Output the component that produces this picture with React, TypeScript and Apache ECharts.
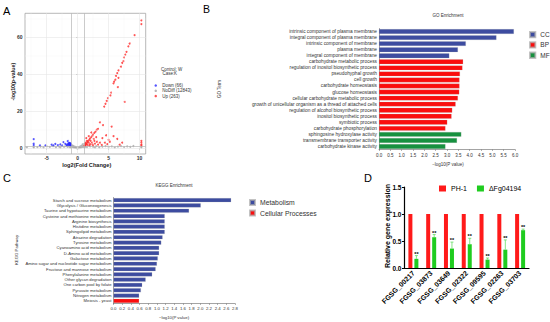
import React, { useEffect, useRef } from 'react';
import * as echarts from 'echarts';

const FONT = '"Liberation Sans", Arial, sans-serif';

// ---------- Panel A: volcano ----------
const volcanoUp: number[][] = [
  [10.3, 69], [10.3, 67], [9.2, 61], [8.4, 56.5], [8.2, 55], [7.9, 52], [7.7, 50.5], [7.5, 49], [7.4, 47],
  [7.2, 46], [7.0, 44], [6.6, 42], [6.4, 40.5], [6.2, 39], [6.6, 38], [6.1, 37], [5.9, 36], [5.8, 35],
  [6.5, 33], [5.4, 30], [5.3, 28.5], [4.9, 27], [4.7, 25.5], [4.5, 24], [4.3, 22.5], [7.6, 25], [3.6, 14],
  [5.5, 11.7], [4.1, 12.5], [3.3, 10.5], [3.1, 10], [2.9, 9], [2.7, 8.3], [2.5, 7.5], [2.4, 6.8], [2.2, 6],
  [2.0, 5.3], [1.9, 4.6], [1.7, 4], [1.6, 3.4], [1.5, 2.8], [1.4, 2.2], [1.3, 1.8], [1.2, 1.5], [1.1, 1.4],
  [1.3, 3], [1.5, 4], [1.8, 3], [2.1, 4], [2.3, 3], [2.6, 5], [1.2, 2.5], [1.6, 1.8], [2, 2.2], [2.4, 2],
  [2.8, 2.5], [3.1, 3.5], [1.4, 5.5], [1.8, 6.5], [2.2, 8.5], [3.0, 6], [2.7, 4], [1.9, 1.6], [2.5, 1.5],
  [3.3, 2], [3.6, 3], [4.0, 5.5], [4.6, 7], [5.0, 4.5], [5.8, 6.5], [6.4, 5], [4.4, 3], [5.2, 3.5], [7.2, 3],
  [6.8, 2], [4.8, 2.2], [3.9, 1.8], [10.3, 4], [10.3, 3], [10.3, 2], [10.3, 1.5],
];
const volcanoDown: number[][] = [
  [-7.1, 4.9], [-7.1, 2.5], [-7.1, 1.7], [-5.2, 1.6], [-4.2, 1.9], [-3.6, 2.3], [-3.2, 1.7], [-2.8, 2.1],
  [-2.3, 3.3], [-2.0, 2.4], [-1.8, 1.9], [-1.6, 3.9], [-1.5, 2.6], [-1.4, 2.2], [-1.3, 1.8], [-1.2, 2.6],
  [-1.1, 2.0], [-1.25, 2.3], [-1.35, 2.9], [-1.15, 1.6], [-1.05, 1.5], [-1.45, 1.7], [-1.55, 2.1],
  [-1.7, 1.6], [-2.5, 1.5], [-6.1, 1.5], [-3.9, 1.5], [-1.1, 2.4], [-1.2, 1.9], [-1.3, 2.7],
];
const volcanoNoDiff: number[][] = [
  [-7.1, 0.3], [-7.1, 0.8], [-6.5, 0.6], [-6, 0.9], [-5.5, 0.4], [-5, 1.0], [-4.5, 0.7], [-4, 1.1],
  [-3.5, 0.5], [-3, 0.9], [-2.6, 1.2], [-2.2, 0.8], [-1.9, 1.1], [-1.6, 0.7], [-1.3, 1.0], [-1.0, 0.9],
  [-0.8, 0.6], [-0.6, 0.4], [-0.4, 0.25], [-0.2, 0.1], [0, 0.05], [0.2, 0.1], [0.4, 0.3], [0.6, 0.5],
  [0.8, 0.7], [0.9, 1.0], [-0.7, 1.2], [0.7, 1.6], [0.85, 2.2], [-0.9, 1.6], [1.2, 0.9], [1.5, 0.6],
  [2, 1.0], [2.5, 0.8], [3, 1.1], [3.5, 0.5], [4, 0.9], [4.5, 1.2], [5, 0.7], [5.5, 1.0], [6, 0.4],
  [6.5, 0.9], [7, 1.1], [7.5, 0.6], [8, 1.0], [8.5, 0.7], [9, 1.2], [10.3, 0.4], [10.3, 0.9], [-8.2, 0.5],
  [-0.3, 0.6], [0.3, 0.7], [-0.5, 0.9], [0.5, 1.1], [-1.2, 0.4], [1.1, 0.5], [-2.8, 0.3], [2.8, 0.3],
];
const volcanoXTicks = [-5, 0, 5, 10];
const volcanoXMinor = [-7.5, -2.5, 2.5, 7.5];
const volcanoYTicks = [0, 20, 40, 60];
const volcanoYMinor = [10, 30, 50, 70];
const fcThresholds = [-1, 1];
const pThreshold = 1.3;

// ---------- Panel B: GO ----------
const goTerms = [
  'intrinsic component of plasma membrane', 'integral component of plasma membrane',
  'intrinsic component of membrane', 'plasma membrane', 'integral component of membrane',
  'carbohydrate metabolic process', 'regulation of inositol biosynthetic process', 'pseudohyphal growth',
  'cell growth', 'carbohydrate homeostasis', 'glucose homeostasis', 'cellular carbohydrate metabolic process',
  'growth of unicellular organism as a thread of attached cells', 'regulation of alcohol biosynthetic process',
  'inositol biosynthetic process', 'symbiotic process', 'carbohydrate phosphorylation',
  'sphingosine hydroxylase activity', 'transmembrane transporter activity', 'carbohydrate kinase activity',
];
const goValues = [5.95, 5.18, 3.83, 3.48, 3.10, 3.71, 3.68, 3.57, 3.55, 3.55, 3.54, 3.48, 3.38, 3.23, 3.20, 3.01, 2.93, 3.63, 3.44, 2.93];
const goGroups = ['CC', 'CC', 'CC', 'CC', 'CC', 'BP', 'BP', 'BP', 'BP', 'BP', 'BP', 'BP', 'BP', 'BP', 'BP', 'BP', 'BP', 'MF', 'MF', 'MF'];
const goCats = ['CC', 'BP', 'MF'];

// ---------- Panel C: KEGG ----------
const keggTerms = [
  'Starch and sucrose metabolism', 'Glycolysis / Gluconeogenesis', 'Taurine and hypotaurine metabolism',
  'Cysteine and methionine metabolism', 'Arginine biosynthesis', 'Histidine metabolism', 'Sphingolipid metabolism',
  'Atrazine degradation', 'Tyrosine metabolism', 'Cyanoamino acid metabolism', 'D-Amino acid metabolism',
  'Galactose metabolism', 'Amino sugar and nucleotide sugar metabolism', 'Fructose and mannose metabolism',
  'Phenylalanine metabolism', 'Other glycan degradation', 'One carbon pool by folate', 'Pyruvate metabolism',
  'Nitrogen metabolism', 'Meiosis - yeast',
];
const keggValues = [2.71, 2.01, 1.74, 1.18, 1.18, 1.18, 1.18, 1.13, 1.10, 1.05, 1.05, 1.02, 1.0, 0.97, 0.89, 0.74, 0.66, 0.63, 0.59, 0.59];
const keggGroups = [...Array(19).fill('Metabolism'), 'Cellular Processes'];
const keggCats = ['Metabolism', 'Cellular Processes'];

// ---------- Panel D: qPCR ----------
const genes = ['FGSG_00217', 'FGSG_03873', 'FGSG_03649', 'FGSG_02322', 'FGSG_09595', 'FGSG_02263', 'FGSG_03703'];
const ph1Values = [1, 1, 1, 1, 1, 1, 1];
const mutantValues = [0.17, 0.57, 0.36, 0.44, 0.155, 0.34, 0.70];
const mutantErrTop = [0.23, 0.62, 0.48, 0.55, 0.185, 0.52, 0.72];

const BLUE = '#3d4ca0';
const RED = '#fb0d0d';
const GREEN = '#17913f';
const goColors: Record<string, string> = { CC: BLUE, BP: RED, MF: GREEN };
const keggColors: Record<string, string> = { Metabolism: BLUE, 'Cellular Processes': RED };

export default function App() {
  const ref = useRef<HTMLDivElement>(null);
  useEffect(() => {
    if (!ref.current) return;
    const chart = echarts.init(ref.current, undefined, { renderer: 'svg' });

    const vLines = [
      ...volcanoXMinor.map((v) => ({ xAxis: v, lineStyle: { color: '#f3f3f3', width: 0.4, type: 'solid' } })),
      ...volcanoYMinor.map((v) => ({ yAxis: v, lineStyle: { color: '#f3f3f3', width: 0.4, type: 'solid' } })),
      ...volcanoXTicks.map((v) => ({ xAxis: v, lineStyle: { color: '#e6e6e6', width: 0.6, type: 'solid' } })),
      ...volcanoYTicks.map((v) => ({ yAxis: v, lineStyle: { color: '#e6e6e6', width: 0.6, type: 'solid' } })),
      ...fcThresholds.map((v) => ({ xAxis: v, lineStyle: { color: '#b5b5b5', width: 0.7, type: 'solid' } })),
      { yAxis: pThreshold, lineStyle: { color: '#b5b5b5', width: 0.7, type: 'solid' } },
    ];

    const catAxisCommon = {
      type: 'category' as const,
      inverse: true,
      axisLine: { lineStyle: { color: '#666', width: 0.6 } },
      axisTick: { alignWithLabel: true, length: 1.5, lineStyle: { color: '#666', width: 0.5 } },
      axisLabel: { fontSize: 4.8, color: '#333', margin: 2, fontFamily: FONT, interval: 0 },
    };
    const valAxisSmall = {
      type: 'value' as const,
      axisLine: { show: true, lineStyle: { color: '#666', width: 0.6 } },
      axisTick: { show: true, length: 1.5, lineStyle: { color: '#666', width: 0.5 } },
      splitLine: { show: false },
      axisLabel: { fontSize: 4.5, color: '#333', margin: 3, fontFamily: FONT, formatter: (v: number) => v.toFixed(1) },
    };

    const option: any = {
      animation: false,
      textStyle: { fontFamily: FONT },
      grid: [
        { left: 25, top: 13.3, width: 120.7, height: 140.7, show: true, borderColor: '#999', borderWidth: 0.7, backgroundColor: '#fff' },
        { left: 379, top: 28.5, width: 136, height: 121 },
        { left: 113.5, top: 197.5, width: 121.5, height: 106 },
        { left: 404.5, top: 187, width: 124.5, height: 81 },
      ],
      xAxis: [
        {
          type: 'value', gridIndex: 0, min: -8.5, max: 11.0,
          axisLine: { show: false },
          axisTick: { show: true, customValues: volcanoXTicks, length: 1.5, lineStyle: { color: '#555', width: 0.5 } },
          axisLabel: { customValues: volcanoXTicks, fontSize: 5, fontWeight: 'bold', color: '#333', margin: 1.5 },
          splitLine: { show: false },
        },
        { ...valAxisSmall, gridIndex: 1, min: 0, max: 6, interval: 0.5 },
        { ...valAxisSmall, gridIndex: 2, min: 0, max: 2.8, interval: 0.2, axisLabel: { ...valAxisSmall.axisLabel, fontSize: 4.3 } },
        {
          type: 'category', gridIndex: 3, data: genes,
          axisLine: { lineStyle: { color: '#000', width: 1.2 } },
          axisTick: { alignWithLabel: true, length: 3, lineStyle: { color: '#000', width: 1 } },
          axisLabel: { rotate: 45, fontSize: 7, fontWeight: 'bold', color: '#000', margin: 4, interval: 0 },
        },
      ],
      yAxis: [
        {
          type: 'value', gridIndex: 0, min: -3.1, max: 72.8,
          axisLine: { show: false },
          axisTick: { show: true, customValues: volcanoYTicks, length: 1.5, lineStyle: { color: '#555', width: 0.5 } },
          axisLabel: { customValues: volcanoYTicks, fontSize: 5, fontWeight: 'bold', color: '#333', margin: 2.5 },
          splitLine: { show: false },
        },
        { ...catAxisCommon, gridIndex: 1, data: goTerms },
        { ...catAxisCommon, gridIndex: 2, data: keggTerms, axisLabel: { ...catAxisCommon.axisLabel, fontSize: 4.2 } },
        {
          type: 'value', gridIndex: 3, min: 0, max: 1.5, interval: 0.5,
          axisLine: { show: true, lineStyle: { color: '#000', width: 1.2 } },
          axisTick: { show: true, length: 2.5, lineStyle: { color: '#000', width: 1 } },
          splitLine: { show: false },
          axisLabel: { fontSize: 6.5, fontWeight: 'bold', color: '#000', margin: 3, formatter: (v: number) => v.toFixed(1) },
        },
      ],
      legend: [
        {
          data: ['Down (66)', 'NoDiff (12843)', 'Up (263)'], orient: 'vertical', left: 154.5, top: 83,
          icon: 'circle', itemWidth: 3, itemHeight: 2.5, itemGap: 0.3, padding: 0,
          textStyle: { fontSize: 4.5, lineHeight: 4, color: '#333' },
        },
        {
          data: goCats, orient: 'vertical', left: 529, top: 31, icon: 'rect', itemWidth: 5.3, itemHeight: 5.3,
          itemGap: 3, padding: 0, textStyle: { fontSize: 6.5, lineHeight: 7, color: '#333' },
        },
        {
          data: keggCats, orient: 'vertical', left: 249, top: 199, icon: 'rect', itemWidth: 5, itemHeight: 5,
          itemGap: 3.5, padding: 0, textStyle: { fontSize: 6.8, lineHeight: 6.5, color: '#333' },
        },
        {
          data: ['PH-1', 'ΔFg04194'], orient: 'horizontal', left: 439, top: 185, icon: 'rect', itemWidth: 7,
          itemHeight: 6, itemGap: 10, padding: 0,
          textStyle: { fontSize: 7, color: '#000' },
        },
      ],
      graphic: [
        { type: 'text', left: 3, top: 5, style: { text: 'A', fontSize: 11, fill: '#000', fontFamily: FONT } },
        { type: 'text', left: 203, top: 3, style: { text: 'B', fontSize: 10.5, fill: '#000', fontFamily: FONT } },
        { type: 'text', left: 3, top: 172, style: { text: 'C', fontSize: 11, fill: '#000', fontFamily: FONT } },
        { type: 'text', left: 364, top: 172, style: { text: 'D', fontSize: 11, fill: '#000', fontFamily: FONT } },
        { type: 'text', x: 13.3, y: 81.7, rotation: Math.PI / 2, style: { text: '-log10(p-value)', fontSize: 5.3, fontWeight: 'bold', fill: '#222', align: 'center', verticalAlign: 'middle', fontFamily: FONT } },
        { type: 'text', x: 86.7, y: 164.5, style: { text: 'log2(Fold Change)', fontSize: 5.6, fontWeight: 'bold', fill: '#222', align: 'center', verticalAlign: 'middle', fontFamily: FONT } },
        { type: 'text', x: 161, y: 69, style: { text: 'Control: W', fontSize: 4.5, fill: '#333', verticalAlign: 'middle', fontFamily: FONT } },
        { type: 'text', x: 162.5, y: 73.5, style: { text: 'Case:', fontSize: 4.5, fill: '#333', verticalAlign: 'middle', fontFamily: FONT } },
        { type: 'text', x: 177, y: 73.5, style: { text: 'K', fontSize: 4.5, fill: '#333', align: 'right', verticalAlign: 'middle', fontFamily: FONT } },
        { type: 'text', x: 448, y: 15, style: { text: 'GO Enrichment', fontSize: 4.5, fill: '#333', align: 'center', verticalAlign: 'middle', fontFamily: FONT } },
        { type: 'text', x: 219, y: 89, rotation: Math.PI / 2, style: { text: 'GO Term', fontSize: 4.5, fill: '#333', align: 'center', verticalAlign: 'middle', fontFamily: FONT } },
        { type: 'text', x: 448, y: 164, style: { text: '\u2212log10(P value)', fontSize: 4.5, fill: '#333', align: 'center', verticalAlign: 'middle', fontFamily: FONT } },
        { type: 'text', x: 174, y: 185, style: { text: 'KEGG Enrichment', fontSize: 4.5, fill: '#333', align: 'center', verticalAlign: 'middle', fontFamily: FONT } },
        { type: 'text', x: 16, y: 250, rotation: Math.PI / 2, style: { text: 'KEGG Pathway', fontSize: 4.3, fill: '#333', align: 'center', verticalAlign: 'middle', fontFamily: FONT } },
        { type: 'text', x: 174, y: 317, style: { text: '\u2212log10(P value)', fontSize: 4.3, fill: '#333', align: 'center', verticalAlign: 'middle', fontFamily: FONT } },
        { type: 'text', x: 387, y: 226, rotation: Math.PI / 2, style: { text: 'Relative gene expression', fontSize: 7, fontWeight: 'bold', fill: '#000', align: 'center', verticalAlign: 'middle', fontFamily: FONT } },
      ],
      series: [
        {
          type: 'line', xAxisIndex: 0, yAxisIndex: 0, data: [], z: 1, silent: true,
          markLine: { symbol: 'none', silent: true, label: { show: false }, data: vLines, animation: false },
        },
        { name: 'NoDiff (12843)', type: 'scatter', xAxisIndex: 0, yAxisIndex: 0, data: volcanoNoDiff, symbolSize: 2, itemStyle: { color: '#a6a6a6' }, z: 2 },
        { name: 'Down (66)', type: 'scatter', xAxisIndex: 0, yAxisIndex: 0, data: volcanoDown, symbolSize: 2, itemStyle: { color: '#2a2aff' }, z: 3 },
        { name: 'Up (263)', type: 'scatter', xAxisIndex: 0, yAxisIndex: 0, data: volcanoUp, symbolSize: 2, itemStyle: { color: '#ff2a2a' }, z: 3 },
        ...goCats.map((c) => ({
          name: c, type: 'bar', xAxisIndex: 1, yAxisIndex: 1, stack: 'go', barWidth: 4.7,
          itemStyle: { color: goColors[c], borderColor: 'rgba(170,170,170,0.7)', borderWidth: 0.3 },
          data: goValues.map((v, i) => (goGroups[i] === c ? v : '-')),
        })),
        ...keggCats.map((c) => ({
          name: c, type: 'bar', xAxisIndex: 2, yAxisIndex: 2, stack: 'kegg', barWidth: 4,
          itemStyle: { color: keggColors[c], borderColor: 'rgba(170,170,170,0.7)', borderWidth: 0.3 },
          data: keggValues.map((v, i) => (keggGroups[i] === c ? v : '-')),
        })),
        {
          name: 'PH-1', type: 'bar', xAxisIndex: 3, yAxisIndex: 3, data: ph1Values, barWidth: 4, barGap: '50%',
          itemStyle: { color: '#ff1a1a' },
        },
        {
          name: 'ΔFg04194', type: 'bar', xAxisIndex: 3, yAxisIndex: 3, data: mutantValues, barWidth: 4, barGap: '50%',
          itemStyle: { color: '#1fcc1f' },
        },
        {
          type: 'custom', xAxisIndex: 3, yAxisIndex: 3, z: 5, silent: true,
          data: genes.map((g, i) => [i, mutantValues[i], mutantErrTop[i]]),
          encode: { x: 0, y: 2 },
          renderItem: (params: any, api: any) => {
            const idx = api.value(0);
            const pMean = api.coord([idx, api.value(1)]);
            const pTop = api.coord([idx, api.value(2)]);
            const x = pMean[0] + 3;
            return {
              type: 'group',
              children: [
                { type: 'line', shape: { x1: x, y1: pMean[1], x2: x, y2: pTop[1] }, style: { stroke: '#66dd66', lineWidth: 0.8 } },
                { type: 'line', shape: { x1: x - 1.5, y1: pTop[1], x2: x + 1.5, y2: pTop[1] }, style: { stroke: '#66dd66', lineWidth: 0.8 } },
                { type: 'text', x: x, y: pTop[1] - 2, style: { text: '**', fontSize: 5.5, fontWeight: 'bold', fill: '#000', align: 'center', verticalAlign: 'middle', fontFamily: FONT } },
              ],
            };
          },
        },
      ],
    };
    chart.setOption(option);
    return () => chart.dispose();
  }, []);
  return <div ref={ref} style={{ position: 'absolute', left: 0, top: 0, width: 550, height: 322, background: '#fff' }} />;
}
